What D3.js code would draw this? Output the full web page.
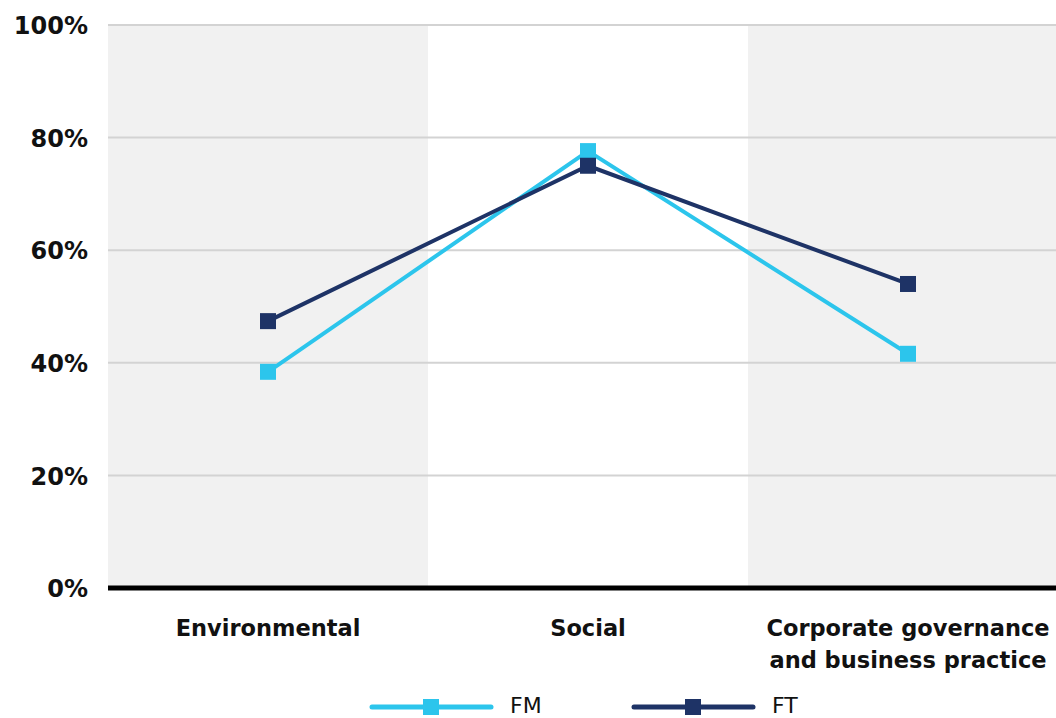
<!DOCTYPE html>
<html><head><meta charset="utf-8">
<script src="https://cdn.jsdelivr.net/npm/d3@7"></script>
<style>body{margin:0;background:#fff;} svg{display:block;font-family:"DejaVu Sans", sans-serif;}</style>
</head><body><svg id="c" width="1056" height="718"></svg>
<script>
const categories = [["Environmental"], ["Social"], ["Corporate governance", "and business practice"]];
const categoryKeys = ["Environmental", "Social", "Corporate governance and business practice"];
const seriesNames = ["FM", "FT"];
const fmValues = [38.4, 77.6, 41.6];
const ftValues = [47.4, 75.0, 54.0];
const yTicks = [0, 20, 40, 60, 80, 100];
const colors = {FM: "#2cc5ec", FT: "#1e3366"};

(function(){
const svg = d3.select("#c");
const mLeft = 108, mRight = 1068, mTop = 25, mBottom = 588;
const x = d3.scaleBand().domain(categoryKeys).range([mLeft, mRight]).padding(0);
const y = d3.scaleLinear().domain([0, 100]).range([mBottom, mTop]);

svg.selectAll("rect.band").data(categoryKeys.filter((d,i)=>i%2===0)).enter().append("rect")
  .attr("x", d => x(d)).attr("y", y(100)).attr("width", x.bandwidth()).attr("height", y(0)-y(100))
  .attr("fill", "#f1f1f1");

svg.selectAll("line.grid").data(yTicks.filter(t => t > 0)).enter().append("line")
  .attr("x1", mLeft).attr("x2", 1056).attr("y1", d => y(d)).attr("y2", d => y(d))
  .attr("stroke", "#d3d3d3").attr("stroke-width", 2);

const yAxis = d3.axisLeft(y).tickValues(yTicks).tickFormat(d => d + "%").tickSize(0).tickPadding(0);
const yg = svg.append("g").attr("transform", `translate(${mLeft-20},0)`).call(yAxis);
yg.select(".domain").remove();
yg.selectAll("text").attr("font-size", 24).attr("font-weight", "bold").attr("fill", "#111")
  .attr("font-family", "'DejaVu Sans', sans-serif").attr("dy", "0.36em");

svg.append("line").attr("x1", mLeft).attr("x2", 1056).attr("y1", y(0)).attr("y2", y(0))
  .attr("stroke", "#000").attr("stroke-width", 5);

categories.forEach((lines, i) => {
  const cx = x(categoryKeys[i]) + x.bandwidth()/2;
  const t = svg.append("text").attr("x", cx).attr("y", 636).attr("text-anchor", "middle")
    .attr("font-size", 22.5).attr("font-weight", "bold").attr("fill", "#111");
  lines.forEach((l, j) => t.append("tspan").attr("x", cx).attr("dy", j === 0 ? 0 : 32).text(l));
});

const series = [{name: "FM", values: fmValues}, {name: "FT", values: ftValues}];
const line = d3.line().x((d, i) => x(categoryKeys[i]) + x.bandwidth()/2).y(d => y(d));
const ms = 16;
series.forEach(s => {
  svg.append("path").datum(s.values).attr("d", line).attr("fill", "none")
    .attr("stroke", colors[s.name]).attr("stroke-width", 4);
});
series.forEach(s => {
  svg.selectAll(null).data(s.values).enter().append("rect")
    .attr("x", (d, i) => x(categoryKeys[i]) + x.bandwidth()/2 - ms/2)
    .attr("y", d => y(d) - ms/2).attr("width", ms).attr("height", ms)
    .attr("fill", colors[s.name]);
});

const legendX = [370, 632];
seriesNames.forEach((n, i) => {
  const g = svg.append("g").attr("transform", `translate(${legendX[i]},707)`);
  g.append("line").attr("x1", 2).attr("x2", 121).attr("y1", 0).attr("y2", 0)
    .attr("stroke", colors[n]).attr("stroke-width", 5).attr("stroke-linecap", "round");
  g.append("rect").attr("x", 53).attr("y", -8).attr("width", 16).attr("height", 16).attr("fill", colors[n]);
  g.append("text").attr("x", 140).attr("y", 6).attr("font-size", 22)
    .attr("fill", "#111").text(n);
});
})();
</script></body></html>
